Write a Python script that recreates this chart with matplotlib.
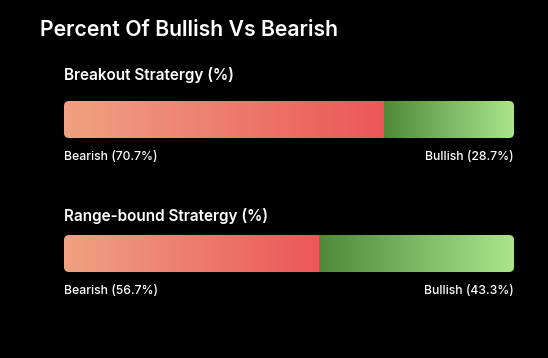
import matplotlib.pyplot as plt
import numpy as np
from matplotlib.colors import LinearSegmentedColormap
from matplotlib.patches import FancyBboxPatch

title = "Percent Of Bullish Vs Bearish"
strategies = ["Breakout Stratergy (%)", "Range-bound Stratergy (%)"]
bearish = [70.7, 56.7]
bullish = [28.7, 43.3]

red_cmap = LinearSegmentedColormap.from_list("bear", ["#f0a283", "#eb5757"])
green_cmap = LinearSegmentedColormap.from_list("bull", ["#4e8a39", "#abe58b"])

W, H = 548, 358
plt.rcParams['font.family'] = ['Inter', 'DejaVu Sans']
fig = plt.figure(figsize=(W / 100, H / 100), dpi=100, facecolor="black")

fig.text(40 / W, 1 - 30 / H, title, color="white", fontsize=15.3,
         fontweight="semibold", va="center", ha="left")

# layout in pixels
bar_left, bar_w, bar_h = 64, 450, 37
bar_tops = [101, 235]
name_y = [75, 216]
radius = 5
grad = np.linspace(0, 1, 256).reshape(1, -1)

for i, name in enumerate(strategies):
    top = bar_tops[i]
    fig.text(bar_left / W, 1 - name_y[i] / H, name, color="white",
             fontsize=11, fontweight="semibold", va="center", ha="left")
    ax = fig.add_axes([bar_left / W, 1 - (top + bar_h) / H, bar_w / W, bar_h / H])
    ax.set_facecolor("black")
    total = bearish[i] + bullish[i]
    clip = FancyBboxPatch((0, 0), 1, 1,
                          boxstyle=f"round,pad=0,rounding_size={radius / bar_w}",
                          mutation_aspect=bar_w / bar_h,
                          transform=ax.transAxes, facecolor="none", edgecolor="none")
    ax.add_patch(clip)
    im1 = ax.imshow(grad, cmap=red_cmap, aspect="auto", extent=[0, bearish[i], 0, 1])
    im2 = ax.imshow(grad, cmap=green_cmap, aspect="auto", extent=[bearish[i], total, 0, 1])
    im1.set_clip_path(clip)
    im2.set_clip_path(clip)
    ax.set_xlim(0, total)
    ax.set_ylim(0, 1)
    ax.axis("off")
    fig.text(bar_left / W, 1 - (top + bar_h + 18.5) / H, f"Bearish ({bearish[i]}%)",
             color="white", fontsize=8.8, fontweight="medium", va="center", ha="left")
    fig.text((bar_left + bar_w) / W, 1 - (top + bar_h + 18.5) / H, f"Bullish ({bullish[i]}%)",
             color="white", fontsize=8.8, fontweight="medium", va="center", ha="right")

fig.savefig("out.png", dpi=100, facecolor="black")
